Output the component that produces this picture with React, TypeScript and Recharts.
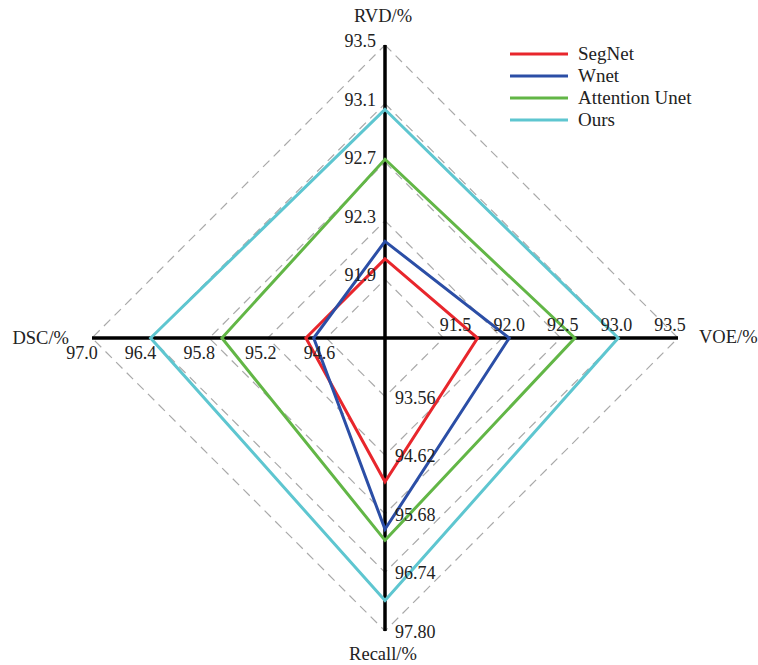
import React from 'react';
import { RadarChart, Radar, PolarGrid, PolarAngleAxis, PolarRadiusAxis, Legend } from 'recharts';

// four axes, each with its own scale (levels 1..5)
const axisNames = ['RVD/%', 'VOE/%', 'Recall/%', 'DSC/%'];
const rvdTicks = ['91.9', '92.3', '92.7', '93.1', '93.5'];
const voeTicks = ['91.5', '92.0', '92.5', '93.0', '93.5'];
const recallTicks = ['93.56', '94.62', '95.68', '96.74', '97.80'];
const dscTicks = ['94.6', '95.2', '95.8', '96.4', '97.0'];

// values in axis order: RVD, VOE, Recall, DSC
const segnet = [92.04, 91.79, 95.1, 94.81];
const wnet = [92.16, 92.06, 95.96, 94.73];
const attentionUnet = [92.72, 92.62, 96.16, 95.67];
const ours = [93.06, 92.99, 97.25, 96.4];

const tickSets = [rvdTicks, voeTicks, recallTicks, dscTicks];

const series = [
    { key: 'segnet', name: 'SegNet', values: segnet, color: '#e8262c' },
    { key: 'wnet', name: 'Wnet', values: wnet, color: '#2b4ea6' },
    { key: 'attention', name: 'Attention Unet', values: attentionUnet, color: '#62b646' },
    { key: 'ours', name: 'Ours', values: ours, color: '#5ec6d0' },
];

// map a raw value to its grid level on that axis
const toLevel = (v: number, ticks: string[]) => {
    const first = parseFloat(ticks[0]);
    const step = parseFloat(ticks[1]) - first;
    return (v - (first - step)) / step;
};

const data = axisNames.map((axis, i) => {
    const row: any = { axis };
    series.forEach((s) => {
        row[s.key] = toLevel(s.values[i], tickSets[i]);
    });
    return row;
});

const FONT = '"Liberation Serif", "Times New Roman", serif';

const radiusAxes = [
    { id: 0, angle: 90 },
    { id: 1, angle: 0 },
    { id: 2, angle: -90 },
    { id: 3, angle: 180 },
];

const makeRadiusTick = (axisIndex: number) => (props: any) => {
    const { x, y, payload } = props;
    const level = Math.round(payload.value);
    if (level < 1 || level > 5) return <g />;
    const label = tickSets[axisIndex][level - 1];
    let tx = x;
    let ty = y;
    let anchor: 'start' | 'middle' | 'end' = 'middle';
    if (axisIndex === 0) {
        tx = x - 9;
        ty = y - 4;
        anchor = 'end';
    } else if (axisIndex === 1) {
        tx = x + 12 - 5 * (level - 1);
        ty = y - 13;
    } else if (axisIndex === 2) {
        tx = x + 10;
        ty = y + 1;
        anchor = 'start';
    } else {
        tx = x - 7 - (level < 3 ? 0 : 3);
        ty = y + 15;
    }
    return (
        <text x={tx} y={ty} textAnchor={anchor} dominantBaseline="central" fontFamily={FONT} fontSize={18} fill="#222">
            {label}
        </text>
    );
};

const renderAngleTick = (props: any) => {
    const { x, y, payload } = props;
    const name = payload.value;
    let tx = x;
    let ty = y;
    let anchor: 'start' | 'middle' | 'end' = 'middle';
    if (name === 'RVD/%') {
        tx = x - 2;
        ty = y - 21;
    } else if (name === 'VOE/%') {
        tx = x + 13;
        ty = y - 1;
        anchor = 'start';
    } else if (name === 'Recall/%') {
        tx = x - 2;
        ty = y + 15;
    } else {
        tx = x - 15;
        anchor = 'end';
    }
    return (
        <text x={tx} y={ty} textAnchor={anchor} dominantBaseline="central" fontFamily={FONT} fontSize={18.5} fill="#222">
            {name}
        </text>
    );
};

const renderLegend = () => (
    <div style={{ fontFamily: FONT, fontSize: 19, color: '#222' }}>
        {series.map((s) => (
            <div key={s.key} style={{ display: 'flex', alignItems: 'center', height: 22 }}>
                <svg width={58} height={6} style={{ marginRight: 10 }}>
                    <line x1={0} y1={3} x2={58} y2={3} stroke={s.color} strokeWidth={3} />
                </svg>
                <span>{s.name}</span>
            </div>
        ))}
    </div>
);

const App: React.FC = () => {
    return (
        <div style={{ position: 'absolute', left: 0, top: 0, width: 758, height: 665, background: '#fff' }}>
            <RadarChart
                width={758}
                height={665}
                data={data}
                cx={385}
                cy={338}
                outerRadius={293}
                margin={{ top: 0, right: 0, bottom: 0, left: 0 }}
            >
                {/* dashed diamond grid */}
                <PolarGrid gridType="polygon" radialLines={false} stroke="#a9a9a9" strokeWidth={1.2} strokeDasharray="9 6" />
                <PolarAngleAxis dataKey="axis" axisLine={false} tickLine={false} tick={renderAngleTick} />
                {radiusAxes.map((a, i) => (
                    <PolarRadiusAxis
                        key={a.id}
                        radiusAxisId={a.id}
                        angle={a.angle}
                        domain={[0, 5]}
                        tickCount={6}
                        axisLine={false}
                        tick={makeRadiusTick(i)}
                    />
                ))}
                {/* invisible series so every per-axis scale gets its ticks */}
                {radiusAxes.slice(1).map((a) => (
                    <Radar
                        key={'hidden' + a.id}
                        radiusAxisId={a.id}
                        dataKey="ours"
                        stroke="none"
                        fill="none"
                        dot={false}
                        legendType="none"
                        isAnimationActive={false}
                    />
                ))}
                {series.map((s) => (
                    <Radar
                        key={s.key}
                        name={s.name}
                        dataKey={s.key}
                        stroke={s.color}
                        strokeWidth={3}
                        fill="none"
                        fillOpacity={0}
                        dot={false}
                        isAnimationActive={false}
                    />
                ))}
                {/* black axes */}
                <PolarGrid gridType="polygon" polarRadius={[]} radialLines stroke="#000" strokeWidth={3.5} strokeDasharray="" />
                <Legend
                    layout="vertical"
                    align="right"
                    verticalAlign="top"
                    content={renderLegend}
                    wrapperStyle={{ position: 'absolute', left: 510, top: 43, right: 'auto', width: 'auto' }}
                />
            </RadarChart>
        </div>
    );
};

export default App;
